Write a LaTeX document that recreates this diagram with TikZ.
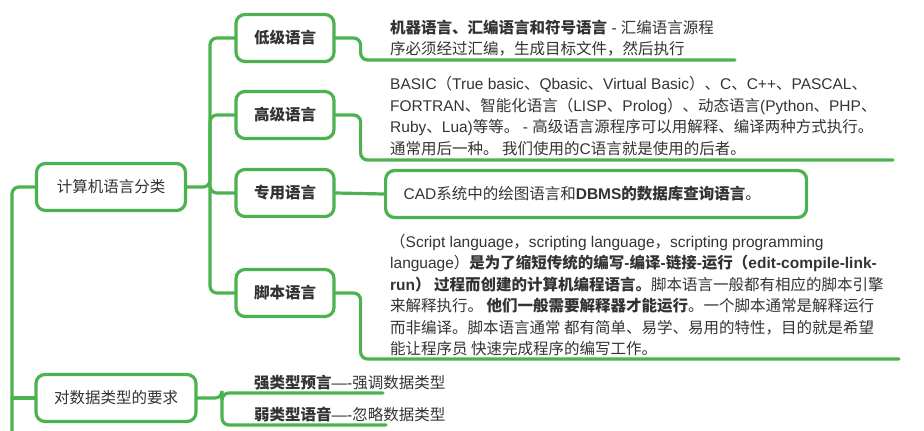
\documentclass[tikz,border=0pt]{standalone}
\usepackage{fontspec}
\setmainfont{Liberation Sans}
\newfontfamily\latinfam{Liberation Sans}
\newfontfamily\cjkfam{Noto Sans CJK SC}
% switch to the CJK face for Chinese characters and full-width signs
\XeTeXinterchartokenstate=1
\newXeTeXintercharclass\cjkclass
\count255="3000 \loop \XeTeXcharclass\count255=\cjkclass \advance\count255 by 1 \ifnum\count255<"3040 \repeat
\count255="4E00 \loop \XeTeXcharclass\count255=\cjkclass \advance\count255 by 1 \ifnum\count255<"A000 \repeat
\count255="FF00 \loop \XeTeXcharclass\count255=\cjkclass \advance\count255 by 1 \ifnum\count255<"FFF0 \repeat
\XeTeXinterchartoks 0 \cjkclass = {\cjkfam}
\XeTeXinterchartoks 4095 \cjkclass = {\cjkfam}
\XeTeXinterchartoks \cjkclass 0 = {\latinfam}
\XeTeXinterchartoks 4095 0 = {\latinfam}
\usetikzlibrary{positioning}
\definecolor{mapgreen}{RGB}{76,178,80}
\definecolor{mapink}{RGB}{51,51,51}

\begin{document}
\begin{tikzpicture}[x=1pt,y=-1pt,
    link/.style={draw=mapgreen,line width=3.2pt,line cap=round,rounded corners=7pt},
    topic/.style={draw=mapgreen,line width=3.2pt,rounded corners=9pt,fill=white,text=mapink,
        minimum height=47pt,inner sep=0pt,font=\fontsize{15.5}{18}\selectfont},
    sub/.style={topic,minimum width=98pt,font=\bfseries\fontsize{15.5}{18}\selectfont},
    note/.style={anchor=west,align=left,text=mapink,inner sep=0pt,font=\fontsize{15.5}{21.5}\selectfont}]
    \useasboundingbox (0,0) rectangle (924,431);

    % topics
    \node[topic,minimum width=149pt] (sort) at (111,187) {计算机语言分类};
    \node[sub] (low) at (285,38) {低级语言};
    \node[sub] (high) at (285,115) {高级语言};
    \node[sub] (spec) at (285,193) {专用语言};
    \node[sub] (script) at (285,293) {脚本语言};
    \node[topic,minimum width=160pt] (req) at (116,398) {对数据类型的要求};

    % notes
    \node[note] (lowtxt) at (390,38) {\textbf{机器语言、汇编语言和符号语言} - 汇编语言源程\\
        序必须经过汇编，生成目标文件，然后执行};
    \node[note] (hightxt) at (390,116) {BASIC（True basic、Qbasic、Virtual Basic）、C、C++、PASCAL、\\
        FORTRAN、智能化语言（LISP、Prolog）、动态语言(Python、PHP、\\
        Ruby、Lua)等等。 - 高级语言源程序可以用解释、编译两种方式执行。\\
        通常用后一种。 我们使用的C语言就是使用的后者。};
    \node[note,draw=mapgreen,line width=3.2pt,rounded corners=9pt,text width=385pt,
        inner xsep=18pt,minimum height=47pt] (spectxt) at (384,194)
        {CAD系统中的绘图语言和\textbf{DBMS的数据库查询语言}。};
    \node[note] (scripttxt) at (390,295) {（Script language，scripting language，scripting programming\\
        language）\textbf{是为了缩短传统的编写-编译-链接-运行（edit-compile-link-}\\
        \textbf{run） 过程而创建的计算机编程语言。}脚本语言一般都有相应的脚本引擎\\
        来解释执行。 \textbf{他们一般需要解释器才能运行}。一个脚本通常是解释运行\\
        而非编译。脚本语言通常 都有简单、易学、易用的特性，目的就是希望\\
        能让程序员 快速完成程序的编写工作。};
    \node[note] (strong) at (254,383) {\textbf{强类型预言}—-强调数据类型};
    \node[note] (weak) at (254,415) {\textbf{弱类型语音}—-忽略数据类型};

    % connector ends
    \coordinate (rootend) at (12,445);
    \coordinate (hub) at (210,187);
    \coordinate (reqhub) at (222,398);
    \coordinate (lowend) at (735,60);
    \coordinate (highend) at (893,160);
    \coordinate (scriptend) at (899,359);
    \coordinate (strongend) at (383,393);
    \coordinate (weakend) at (386,425);

    % connectors
    \draw[link] (sort.west) -| (rootend);
    \draw[link] (req.west) -- (req.west -| rootend);
    \draw[link] (sort.east) -- (hub) |- (low.west);
    \draw[link] (hub) |- (high.west);
    \draw[link] (hub) |- (spec.west);
    \draw[link] (hub) |- (script.west);
    \draw[link] (low.east) -- ++(25,0) |- (lowend);
    \draw[link] (high.east) -- ++(25,0) |- (highend);
    \draw[link] (spec.east) -- (spectxt.west);
    \draw[link] (script.east) -- ++(25,0) |- (scriptend);
    \draw[link] (req.east) -- (reqhub) |- (strongend);
    \draw[link] (reqhub) |- (weakend);
\end{tikzpicture}
\end{document}
